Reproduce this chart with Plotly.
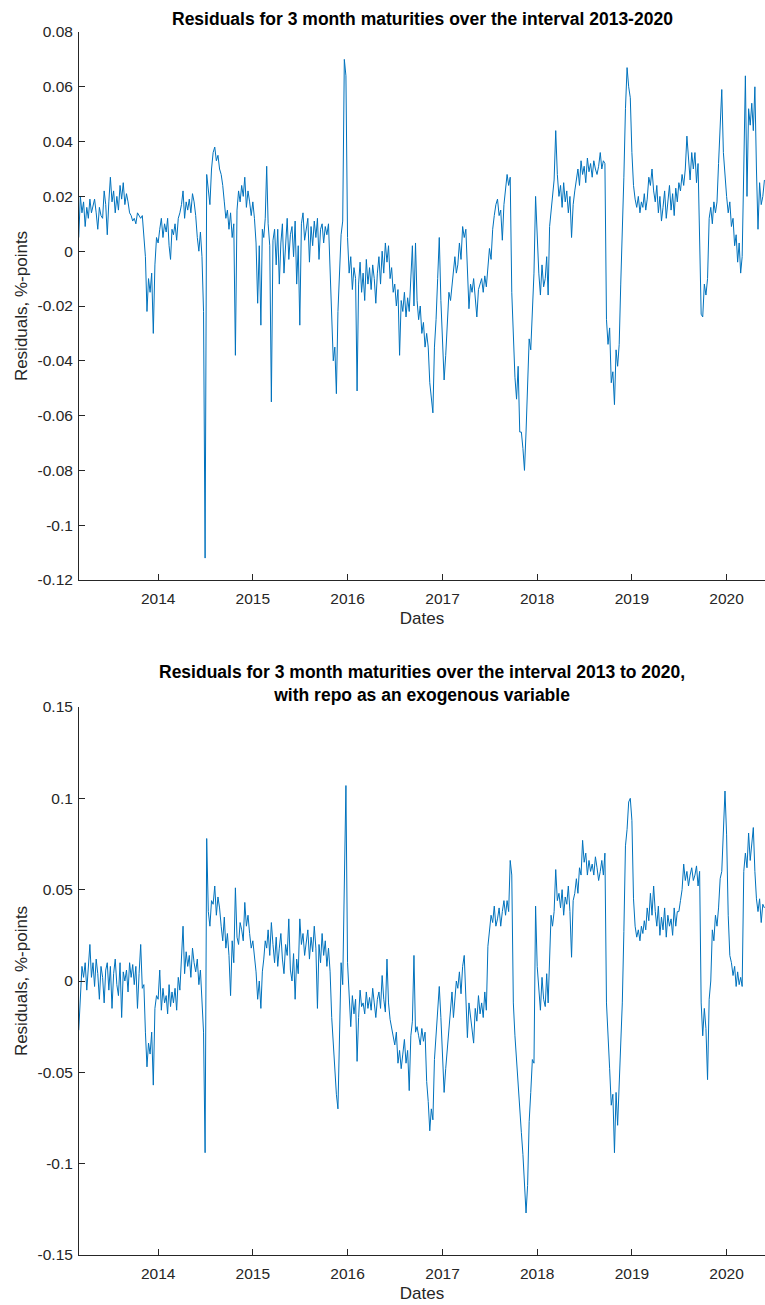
import pandas as pd
import plotly.graph_objects as go

# Residuals (in 1/1000 %-points), five readings per month
# Top panel: 3 month maturities, 2013-2020
r1_2013 = [5, 20, 14, 18, 9,  16, 12, 19, 14, 17,  19, 14, 8, 16, 13,  12, 22, 17, 6, 18,
           27, 18, 22, 14, 20,  15, 24, 19, 25, 17,  21, 18, 14, 13, 11,  12, 10, 14, 13, 12,
           13, 5, -2, -22, -10,  -15, -8, -30, -5, 5]
r1_2014 = [3, 8, 12, 5, 10,  7, 12, 2, -3, 8,  6, 10, 4, 12, 14,  17, 22, 12, 18, 15,
           19, 14, 21, 18, 13,  5, 0, 7, -2, -22,  -112, 28, 22, 17, 30,  36, 38, 33, 35, 30,
           28, 24, 18, 12, 15,  8, 14, 5, 10, -38,  15, 22, 18, 24, 20,  27, 16, 22, 18, 13]
r1_2015 = [18, 12, 3, -19, 2,  -27, 8, 5, 12, 31,  10, 2, -55, 4, 8,  -5, 8, -12, 3, 10,
           -8, 5, 12, -3, 6,  9, -2, 11, -12, 2,  -27, 10, 14, 4, 8,  12, -4, 9, 2, 11,
           5, 12, -3, 8, 10,  3, 9, 6, 10, -5,  -20, -40, -35, -52, -22,  -8, 6, 11, 70, 64]
r1_2016 = [5, -8, -2, -14, -6,  -10, -51, -12, -4, -15,  -8, -18, -3, -12, -6,  -14, -5, -10, -19, -8,
           -2, -12, 0, -8, 3,  -4, 2, -10, -6, -15,  -12, -20, -14, -38, -18,  -22, -15, -24, -17, -22,
           -12, 2, -20, 3, -18,  -25, -20, -30, -26, -35,  -30, -35, -48, -55, -59,  -35, -25, -10, 5, -18]
r1_2017 = [-30, -47, -38, -25, -15,  -18, -12, -6, -2, -8,  -5, 3, -3, 9, 5,  8, -8, -21, -12, -15,
           -10, -18, -24, -14, -12,  -10, -15, -9, -13, -6,  1, -3, 8, 13, 17,  19, 13, 15, 4, 17,
           22, 28, 24, 27, -15,  -34, -46, -54, -42, -66,  -66, -72, -80, -66, -48,  -32, -36, -18, -8, 20]
r1_2018 = [3, -8, -16, -5, -13,  -10, -2, -16, 9, 15,  22, 26, 44, 28, 20,  24, 16, 25, 18, 22,
           14, 20, 5, 17, 22,  26, 30, 24, 33, 28,  31, 25, 34, 29, 32,  27, 33, 30, 28, 31,
           36, 30, 33, 32, -25,  -34, -28, -48, -44, -56,  -36, -42, -34, -12, 4,  27, 52, 67, 60, 56]
r1_2019 = [36, 24, 19, 16, 20,  14, 18, 16, 21, 15,  19, 27, 24, 30, 22,  18, 24, 14, 20, 11,
           16, 22, 12, 19, 24,  15, 21, 13, 23, 18,  25, 22, 28, 24, 30,  42, 34, 26, 36, 30,
           36, 25, 32, 6, -23,  -24, -12, -16, -10, 12,  16, 10, 18, 14, 18,  32, 45, 59, 36, 27]
r1_2020 = [20, 14, 18, 9, 12,  2, 6, -4, 3, -8,  -2, 30, 64, 20, 52,  46, 54, 44, 60, 30,
           8, 25, 17, 20, 26]

# Bottom panel: 3 month maturities with repo as an exogenous variable
r2_2013 = [-27, -5, 8, 2, 10,  -5, 8, 20, 2, 10,  -3, 12, 4, -10, 8,  2, -12, 6, 10, -5,
           8, -15, 4, 12, -2,  -8, 10, -20, 5, 0,  6, -6, 10, 2, 9,  -2, 8, -15, 4, 20,
           -4, -2, -28, -47, -34,  -40, -28, -57, -15, -8]
r2_2014 = [-10, 6, -16, -4, -12,  -8, -18, -2, -14, -6,  -12, -4, -16, 2, -5,  10, 30, 4, 16, 8,
           14, 2, 18, 10, 5,  12, -2, 6, -15, -28,  -94, 78, 38, 30, 44,  42, 52, 36, 46, 40,
           30, 22, 35, 18, 26,  14, -8, 22, 10, 51,  24, 20, 32, 28, 22,  43, 30, 36, 26, 18]
r2_2015 = [22, 12, 5, -10, 0,  -15, 5, 12, 22, 18,  28, 14, 32, 20, 10,  24, 8, 18, 26, 12,
           4, 20, 14, 34, 6,  0, 15, -10, 12, 4,  34, 20, 26, 14, 22,  28, 12, 24, 16, 30,
           18, -15, 20, 10, 26,  14, 22, 8, 18, 5,  -20, -35, -50, -62, -70,  -20, 10, -2, 69, 107]
r2_2016 = [10, -12, -25, -8, -18,  -10, -44, -20, -5, -14,  -12, -18, -6, -15, -9,  -16, -4, -12, -20, -10,
           -6, -15, 3, -10, -17,  12, -12, -21, -25, -30,  -35, -28, -45, -38, -48,  -40, -32, -45, -38, -60,
           -30, -22, 14, -28, -25,  -30, -35, -26, -33, -28,  -55, -66, -82, -70, -76,  -43, -30, -15, -3, -20]
r2_2017 = [-43, -61, -48, -37, -25,  -15, -6, -20, -10, 0,  -4, 5, -7, 8, 14,  -10, -31, -12, -20, -25,
           -34, -15, -22, -8, -18,  -12, -20, -6, -16, 19,  28, 36, 32, 41, 30,  34, 40, 30, 38, 44,
           36, 44, 38, 66, 58,  -12, -30, -45, -59, -68,  -83, -95, -108, -127, -112,  -77, -61, -43, -45, 41]
r2_2018 = [8, -5, -16, 2, -10,  -14, 4, -12, 12, 36,  30, 38, 61, 44, 48,  40, 50, 36, 46, 42,
           52, 38, 13, 44, 48,  56, 48, 62, 58, 77,  65, 70, 58, 66, 60,  64, 58, 68, 62, 55,
           60, 66, 58, 70, -12,  -35, -48, -68, -62, -94,  -61, -79, -57, -30, -12,  27, 74, 83, 98, 100]
r2_2019 = [88, 45, 30, 24, 28,  22, 30, 26, 33, 28,  40, 33, 48, 36, 52,  38, 30, 41, 25, 35,
           28, 40, 24, 36, 30,  34, 25, 40, 30, 38,  38, 44, 50, 64, 55,  60, 52, 58, 62, 55,
           58, 63, 52, 60, -12,  -30, -15, -26, -54, -10,  0, 28, 22, 36, 30,  40, 56, 60, 78, 104]
r2_2020 = [80, 36, 14, 10, 3,  8, -3, 5, -2, 2,  -3, 60, 70, 62, 81,  66, 75, 84, 60, 45,
           38, 45, 32, 42, 40]

years = [2013, 2014, 2015, 2016, 2017, 2018, 2019, 2020]
first_month = {2013: 3}
per_month = 5

top_title = "<b>Residuals for 3 month maturities over the interval 2013-2020</b>"
bottom_title = ("<b>Residuals for 3 month maturities over the interval 2013 to 2020,</b><br>"
                "<b>with repo as an exogenous variable</b>")
y1_ticks = [-0.12, -0.1, -0.08, -0.06, -0.04, -0.02, 0, 0.02, 0.04, 0.06, 0.08]
y1_text = ["-0.12", "-0.1", "-0.08", "-0.06", "-0.04", "-0.02", "0", "0.02", "0.04", "0.06", "0.08"]
y2_ticks = [-0.15, -0.1, -0.05, 0, 0.05, 0.1, 0.15]
y2_text = ["-0.15", "-0.1", "-0.05", "0", "0.05", "0.1", "0.15"]
x_ticks = ["2014-01-01", "2015-01-01", "2016-01-01", "2017-01-01",
           "2018-01-01", "2019-01-01", "2020-01-01"]
x_text = ["2014", "2015", "2016", "2017", "2018", "2019", "2020"]


def build(arrays):
    xs, ys = [], []
    for year, arr in zip(years, arrays):
        m0 = first_month.get(year, 1)
        for i, v in enumerate(arr):
            start = pd.Timestamp(year=year, month=m0 + i // per_month, day=1)
            d = start + pd.Timedelta(days=(i % per_month) * start.days_in_month / per_month)
            xs.append(d)
            ys.append(v / 1000.0)
    return xs, ys


x1, y1 = build([r1_2013, r1_2014, r1_2015, r1_2016, r1_2017, r1_2018, r1_2019, r1_2020])
x2, y2 = build([r2_2013, r2_2014, r2_2015, r2_2016, r2_2017, r2_2018, r2_2019, r2_2020])

LINE = "#0072BD"
AX = "#262626"
FONT = "Liberation Sans, Arial, Helvetica, sans-serif"

fig = go.Figure()
fig.add_trace(go.Scatter(x=x1, y=y1, mode="lines", line=dict(color=LINE, width=1),
                         xaxis="x", yaxis="y", showlegend=False))
fig.add_trace(go.Scatter(x=x2, y=y2, mode="lines", line=dict(color=LINE, width=1),
                         xaxis="x2", yaxis="y2", showlegend=False))

W, H = 765, 1305
mt, mb = 32, 50
ph = H - mt - mb
top_dom = [(1255 - 580) / ph, 1.0]
bot_dom = [0.0, 548 / ph]

xcommon = dict(range=["2013-03-02", "2020-05-28"], tickvals=x_ticks, ticktext=x_text,
               ticks="inside", ticklen=6, tickcolor=AX, showline=True, linecolor=AX,
               linewidth=1, showgrid=False, zeroline=False, ticklabelstandoff=4,
               tickfont=dict(family=FONT, size=15.5, color=AX),
               title=dict(text="Dates", font=dict(family=FONT, size=17, color=AX), standoff=6))
ycommon = dict(ticks="inside", ticklen=6, tickcolor=AX, showline=True, linecolor=AX,
               linewidth=1, showgrid=False, zeroline=False, ticklabelstandoff=2,
               tickfont=dict(family=FONT, size=15.5, color=AX),
               title=dict(text="Residuals, %-points", font=dict(family=FONT, size=17, color=AX),
                          standoff=5))

fig.update_layout(
    width=W, height=H,
    margin=dict(l=79, r=0, t=mt, b=mb),
    paper_bgcolor="white", plot_bgcolor="white",
    xaxis=dict(**xcommon, anchor="y", domain=[0, 1]),
    yaxis=dict(**ycommon, domain=top_dom, range=[-0.12, 0.08], tickvals=y1_ticks, ticktext=y1_text),
    xaxis2=dict(**xcommon, anchor="y2", domain=[0, 1]),
    yaxis2=dict(**ycommon, domain=bot_dom, range=[-0.15, 0.15], tickvals=y2_ticks, ticktext=y2_text),
    annotations=[
        dict(text=top_title, xref="paper", yref="paper", x=0.5, y=1.0, yshift=13,
             xanchor="center", yanchor="middle", showarrow=False,
             font=dict(family=FONT, size=17.5, color="black")),
        dict(text=bottom_title, xref="paper", yref="paper", x=0.5, y=bot_dom[1], yshift=24,
             xanchor="center", yanchor="middle", showarrow=False,
             font=dict(family=FONT, size=17.5, color="black")),
    ],
)

fig.write_html("out.html")
